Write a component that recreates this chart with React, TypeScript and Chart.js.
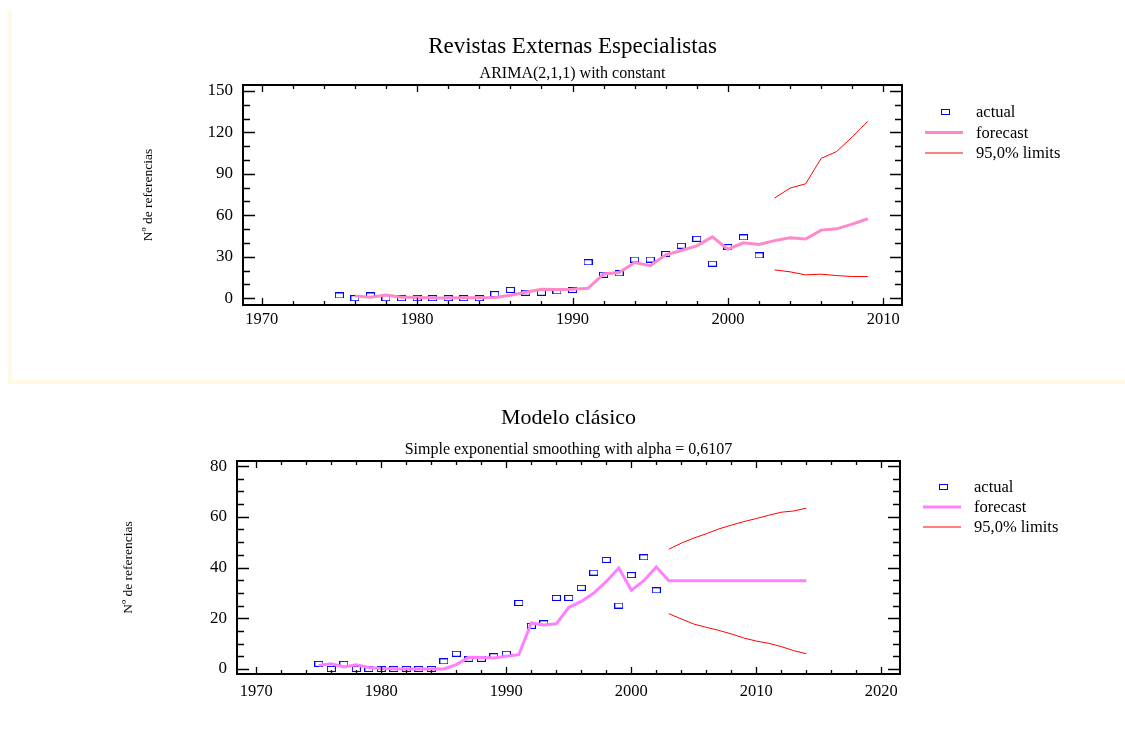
import React, { useEffect, useRef } from 'react';
import { Chart, registerables } from 'chart.js';

Chart.register(...registerables);

// ---------- data ----------
const actualYears = [1975, 1976, 1977, 1978, 1979, 1980, 1981, 1982, 1983, 1984, 1985, 1986, 1987, 1988, 1989, 1990, 1991, 1992, 1993, 1994, 1995, 1996, 1997, 1998, 1999, 2000, 2001, 2002];
const actualValues = [2, 0, 2, 0, 0, 0, 0, 0, 0, 0, 3, 6, 4, 4, 5, 6, 26, 17, 18, 28, 28, 32, 38, 43, 25, 37, 44, 31];

const arimaYears = [1976, 1977, 1978, 1979, 1980, 1981, 1982, 1983, 1984, 1985, 1986, 1987, 1988, 1989, 1990, 1991, 1992, 1993, 1994, 1995, 1996, 1997, 1998, 1999, 2000, 2001, 2002, 2003, 2004, 2005, 2006, 2007, 2008, 2009];
const arimaForecast = [1.7, 0.7, 2.4, 0.7, 0.7, 0.2, 0.2, 0.4, 0.4, 0.6, 2.2, 4.3, 6.5, 6.3, 6.5, 7.2, 17.6, 18.6, 25.8, 23.6, 31.4, 34.5, 37.9, 44.4, 35.5, 40.1, 38.9, 41.7, 43.7, 42.8, 49.3, 50.2, 53.6, 57.5];
const arimaLimitYears = [2003, 2004, 2005, 2006, 2007, 2008, 2009];
const arimaUpper = [72.5, 79.7, 82.8, 101.2, 106.2, 116.7, 128];
const arimaLower = [20.5, 19.1, 16.9, 17.4, 16.4, 15.7, 15.7];

const sesYears = [1975, 1976, 1977, 1978, 1979, 1980, 1981, 1982, 1983, 1984, 1985, 1986, 1987, 1988, 1989, 1990, 1991, 1992, 1993, 1994, 1995, 1996, 1997, 1998, 1999, 2000, 2001, 2002, 2003, 2004, 2005, 2006, 2007, 2008, 2009, 2010, 2011, 2012, 2013, 2014];
const sesForecast = [1.4, 2, 0.8, 1.6, 0.6, 0.2, 0.1, 0, 0, 0, 0, 1.7, 4.6, 4.5, 4.3, 5, 5.6, 18.1, 17.3, 17.8, 24.3, 26.6, 29.9, 34.5, 39.8, 31, 34.8, 40.2, 34.8, 34.8, 34.8, 34.8, 34.8, 34.8, 34.8, 34.8, 34.8, 34.8, 34.8, 34.8];
const sesLimitYears = [2003, 2004, 2005, 2006, 2007, 2008, 2009, 2010, 2011, 2012, 2013, 2014];
const sesUpper = [47.2, 49.6, 51.6, 53.3, 55.2, 56.7, 58.1, 59.3, 60.6, 61.8, 62.3, 63.4];
const sesLower = [21.8, 19.7, 17.7, 16.4, 15.2, 13.8, 12.2, 11.0, 10.1, 8.8, 7.2, 6.0];

const topXTicks = [1970, 1980, 1990, 2000, 2010];
const topYTicks = [0, 30, 60, 90, 120, 150];
const botXTicks = [1970, 1980, 1990, 2000, 2010, 2020];
const botYTicks = [0, 20, 40, 60, 80];

const legendLabels = ['actual', 'forecast', '95,0% limits'];
const yAxisTitle = 'Nº de referencias';

const FONT = '"Liberation Serif", "Times New Roman", serif';

const pts = (xs: number[], ys: number[]) => xs.map((x, i) => ({ x, y: ys[i] }));

function makeRectImage() {
  const c = document.createElement('canvas');
  c.width = 9;
  c.height = 6;
  const g = c.getContext('2d')!;
  g.strokeStyle = '#0000ff';
  g.lineWidth = 1;
  g.strokeRect(0.5, 0.5, 8, 5);
  return c;
}

const decorPlugin = {
  id: 'decor',
  afterDraw(chart: any, _args: any, o: any) {
    const ctx = chart.ctx;
    const { left, right, top, bottom } = chart.chartArea;
    const xs = chart.scales.x;
    const ys = chart.scales.y;
    ctx.save();
    ctx.fillStyle = '#000';
    ctx.strokeStyle = '#000';
    // titles
    ctx.textAlign = 'center';
    ctx.textBaseline = 'alphabetic';
    ctx.font = `${o.titleSize}px ${FONT}`;
    ctx.fillText(o.title, (left + right) / 2, o.titleY);
    ctx.font = `16px ${FONT}`;
    ctx.fillText(o.subtitle, (left + right) / 2, o.subtitleY);
    // y axis title
    ctx.save();
    ctx.translate(o.yTitleX, (top + bottom) / 2);
    ctx.rotate(-Math.PI / 2);
    ctx.font = `13.5px ${FONT}`;
    ctx.textBaseline = 'middle';
    ctx.fillText(yAxisTitle, 0, 0);
    ctx.restore();
    // ticks
    ctx.lineWidth = 1.3;
    ctx.beginPath();
    const x0 = Math.ceil(xs.min / o.xMinor) * o.xMinor;
    for (let v = x0; v <= xs.max + 1e-6; v += o.xMinor) {
      const px = Math.round(xs.getPixelForValue(v)) + 0.5;
      const major = Math.abs(v % o.xMajor) < 1e-6;
      const len = major ? 7 : 4;
      ctx.moveTo(px, bottom);
      ctx.lineTo(px, bottom - len);
      ctx.moveTo(px, top);
      ctx.lineTo(px, top + len);
    }
    const y0 = Math.ceil(ys.min / o.yMinor) * o.yMinor;
    for (let v = y0; v <= ys.max + 1e-6; v += o.yMinor) {
      const py = Math.round(ys.getPixelForValue(v)) + 0.5;
      const major = Math.abs(v % o.yMajor) < 1e-6;
      const len = major ? 12 : 7;
      ctx.moveTo(left, py);
      ctx.lineTo(left + len, py);
      ctx.moveTo(right, py);
      ctx.lineTo(right - len, py);
    }
    ctx.stroke();
    // frame
    ctx.lineWidth = 2;
    ctx.strokeRect(left, top, right - left, bottom - top);
    // legend: actual, forecast, limits
    const ds = chart.data.datasets;
    ctx.font = `16.5px ${FONT}`;
    ctx.textAlign = 'left';
    ctx.textBaseline = 'middle';
    const order = [3, 1, 0];
    order.forEach((di: number, i: number) => {
      const d = ds[di];
      const y = top + o.legendTop + i * o.legendGap;
      if (d.showLine === false) {
        const img = d.pointStyle;
        ctx.drawImage(img, Math.round(right + 43 - img.width / 2), Math.round(y - img.height / 2));
      } else {
        ctx.strokeStyle = d.borderColor;
        ctx.lineWidth = d.borderWidth;
        ctx.beginPath();
        ctx.moveTo(right + 23, y);
        ctx.lineTo(right + 61, y);
        ctx.stroke();
      }
      ctx.fillStyle = '#000';
      ctx.fillText(d.label, right + 74, y + 1);
    });
    ctx.restore();
  },
};

function buildConfig(p: any) {
  const rectImg = makeRectImage();
  return {
    type: 'line',
    data: {
      datasets: [
        { label: legendLabels[2], data: pts(p.limYears, p.upper), borderColor: '#ff0000', borderWidth: 1, pointRadius: 0, fill: false, tension: 0 },
        { label: legendLabels[1], data: pts(p.fYears, p.forecast), borderColor: p.fColor, borderWidth: 3, pointRadius: 0, fill: false, tension: 0 },
        { label: legendLabels[2], data: pts(p.limYears, p.lower), borderColor: '#ff0000', borderWidth: 1, pointRadius: 0, fill: false, tension: 0 },
        { label: legendLabels[0], data: pts(actualYears, actualValues), showLine: false, pointStyle: rectImg, pointRadius: 4, borderColor: '#0000ff', backgroundColor: '#0000ff' },
      ],
    },
    options: {
      responsive: false,
      animation: false,
      devicePixelRatio: 1,
      layout: { padding: { top: p.area.top, right: p.canvasW - p.area.right, left: 0, bottom: 0 } },
      plugins: {
        legend: { display: false },
        title: { display: false },
        tooltip: { enabled: false },
        decor: {
          title: p.title,
          subtitle: p.subtitle,
          titleSize: p.titleSize,
          titleY: p.titleY,
          subtitleY: p.subtitleY,
          yTitleX: p.yTitleX,
          xMinor: 2,
          xMajor: 10,
          yMinor: p.yMinor,
          yMajor: p.yMajor,
          legendTop: p.legendTop,
          legendGap: p.legendGap,
        },
      },
      scales: {
        x: {
          type: 'linear',
          min: p.xMin,
          max: p.xMax,
          grid: { display: false, drawTicks: false },
          border: { display: false },
          ticks: { font: { family: FONT, size: 16.5 }, color: '#000', padding: p.xPad, maxRotation: 0, callback: (v: any) => String(v) },
          afterBuildTicks: (s: any) => { s.ticks = p.xTicks.map((v: number) => ({ value: v })); },
          afterFit: (s: any) => { s.height = p.canvasH - p.area.bottom; },
        },
        y: {
          type: 'linear',
          min: p.yMin,
          max: p.yMax,
          grid: { display: false, drawTicks: false },
          border: { display: false },
          ticks: { font: { family: FONT, size: 17 }, color: '#000', padding: 10, callback: (v: any) => String(v) },
          afterBuildTicks: (s: any) => { s.ticks = p.yTicks.map((v: number) => ({ value: v })); },
          afterFit: (s: any) => { s.width = p.area.left; },
        },
      },
    },
    plugins: [decorPlugin],
  };
}

const topParams = {
  canvasW: 1125, canvasH: 385,
  area: { left: 243, right: 902, top: 85, bottom: 305 },
  xMin: 1968.8, xMax: 2011.2, yMin: -4.9, yMax: 154.3,
  xTicks: topXTicks, yTicks: topYTicks, yMinor: 10, yMajor: 30, xPad: 5,
  fYears: arimaYears, forecast: arimaForecast, fColor: '#ff88c8',
  limYears: arimaLimitYears, upper: arimaUpper, lower: arimaLower,
  title: 'Revistas Externas Especialistas', subtitle: 'ARIMA(2,1,1) with constant',
  titleSize: 23, titleY: 53, subtitleY: 78, yTitleX: 148,
  legendTop: 27, legendGap: 20.5,
};

const botParams = {
  canvasW: 1125, canvasH: 361,
  area: { left: 237, right: 900, top: 76, bottom: 289 },
  xMin: 1968.45, xMax: 2021.5, yMin: -2, yMax: 82,
  xTicks: botXTicks, yTicks: botYTicks, yMinor: 5, yMajor: 20, xPad: 8,
  fYears: sesYears, forecast: sesForecast, fColor: '#ff80ff',
  limYears: sesLimitYears, upper: sesUpper, lower: sesLower,
  title: 'Modelo clásico', subtitle: 'Simple exponential smoothing with alpha = 0,6107',
  titleSize: 22, titleY: 39, subtitleY: 69, yTitleX: 128,
  legendTop: 26, legendGap: 20,
};

function ChartCanvas({ params, top }: { params: any; top: number }) {
  const ref = useRef<HTMLCanvasElement | null>(null);
  useEffect(() => {
    if (!ref.current) return;
    const chart = new Chart(ref.current, buildConfig(params) as any);
    return () => chart.destroy();
  }, [params]);
  return (
    <canvas
      ref={ref}
      width={params.canvasW}
      height={params.canvasH}
      style={{ position: 'absolute', left: 0, top, width: params.canvasW, height: params.canvasH }}
    />
  );
}

export default function App() {
  return (
    <div style={{ position: 'absolute', left: 0, top: 0, width: 1125, height: 746, background: '#fff', overflow: 'hidden' }}>
      <div style={{ position: 'absolute', left: 8, top: 9, width: 1200, height: 371, borderLeft: '4px solid #fff9e6', borderBottom: '4px solid #fff9e6' }} />
      <ChartCanvas params={topParams} top={0} />
      <ChartCanvas params={botParams} top={385} />
    </div>
  );
}
